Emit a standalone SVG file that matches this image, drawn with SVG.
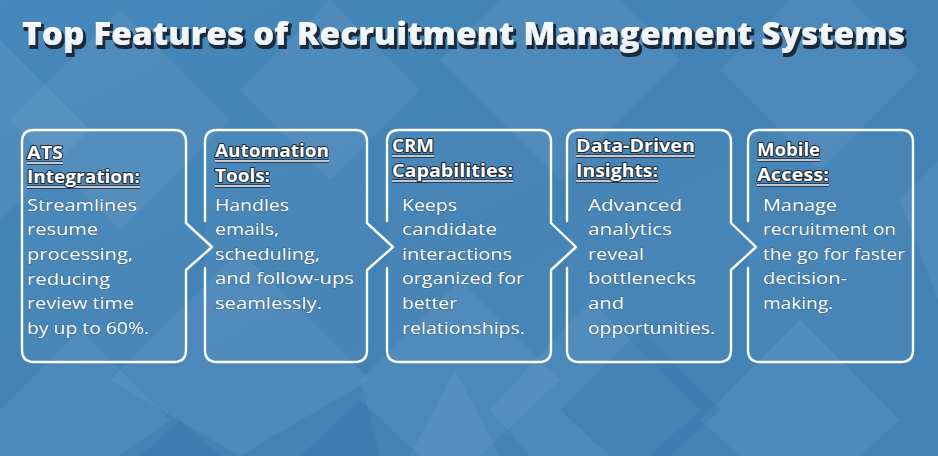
<svg xmlns="http://www.w3.org/2000/svg" width="938" height="456" viewBox="0 0 938 456">
<defs>
<linearGradient id="bg" x1="0" y1="0" x2="1" y2="1">
<stop offset="0" stop-color="#4688bb"/>
<stop offset="0.5" stop-color="#4282b5"/>
<stop offset="1" stop-color="#4383b6"/>
</linearGradient>
<linearGradient id="tg" x1="0" y1="0" x2="0" y2="1">
<stop offset="0" stop-color="#ffffff"/>
<stop offset="1" stop-color="#e4eef6"/>
</linearGradient>
<filter id="ts" x="-5%" y="-30%" width="110%" height="160%">
<feMorphology in="SourceAlpha" operator="dilate" radius="0.8" result="d"/>
<feOffset in="d" dx="2" dy="3" result="o"/>
<feFlood flood-color="#1b2a3b"/>
<feComposite in2="o" operator="in" result="s"/>
<feMerge><feMergeNode in="s"/><feMergeNode in="SourceGraphic"/></feMerge>
</filter>
<style>
.dia{fill:#ffffff;fill-opacity:0.055}
.dk{fill:#2f6fa3;fill-opacity:0.22}
.box{fill:#ffffff;fill-opacity:0.03;stroke:#ffffff;stroke-width:2.4;stroke-linejoin:round;stroke-linecap:round}
.h{font-family:"Open Sans","Liberation Sans",sans-serif;font-weight:700;font-size:17px;fill:#ffffff;stroke:#1d2a38;stroke-width:2;paint-order:stroke;stroke-linejoin:round}
.ul{stroke:#ffffff;stroke-width:1.6}
.uls{stroke:#1d2a38;stroke-width:3.6}
.b{font-family:"Open Sans","Liberation Sans",sans-serif;font-weight:400;font-size:17px;fill:#ffffff;stroke:#27496b;stroke-width:1.1;stroke-opacity:0.55;paint-order:stroke}
.t{font-family:"Open Sans","Liberation Sans",sans-serif;font-weight:800;font-size:32px}
</style>
</defs>
<rect width="938" height="456" fill="url(#bg)"/>
<g id="background">
<path class="dia" d="M0 40 L90 130 L0 220 Z"/>
<path class="dia" d="M120 10 L230 120 L120 230 L10 120 Z"/>
<path class="dia" d="M330 0 L420 90 L330 180 L240 90 Z"/>
<path class="dia" d="M560 -60 L680 60 L560 180 L440 60 Z"/>
<path class="dia" d="M820 -30 L920 70 L820 170 L720 70 Z"/>
<path class="dia" d="M240 250 L370 380 L240 456 L110 380 Z"/>
<path class="dia" d="M80 330 L170 420 L120 456 L0 456 L0 410 Z"/>
<path class="dia" d="M460 280 L560 380 L480 456 L380 456 L360 380 Z"/>
<path class="dia" d="M455 370 L500 456 L410 456 Z"/>
<path class="dia" d="M590 300 L700 410 L650 456 L530 456 L490 410 Z"/>
<path class="dia" d="M800 320 L900 420 L860 456 L740 456 L700 420 Z"/>
<path class="dia" d="M900 200 L938 160 L938 300 Z"/>
<path class="dk" d="M360 400 L420 456 L300 456 Z"/>
<path class="dk" d="M640 330 L720 410 L670 456 L610 456 L560 410 Z"/>
<path class="dk" d="M180 420 L220 456 L140 456 Z"/>
</g>
<g id="title" filter="url(#ts)">
<text class="t" x="22" y="45" textLength="883" lengthAdjust="spacingAndGlyphs" fill="url(#tg)">Top Features of Recruitment Management Systems</text>
</g>
<g id="connectors"></g>
<g id="box1">
<path class="box" d="M34 130 H174 Q186 130 186 142 V223 L212 247 L186 270 V350 Q186 362 174 362 H34 Q22 362 22 350 V142 Q22 130 34 130 Z"/>
<line class="uls" x1="27" y1="163" x2="63" y2="163"/><line class="ul" x1="27" y1="163" x2="63" y2="163"/>
<line class="uls" x1="27" y1="187" x2="140" y2="187"/><line class="ul" x1="27" y1="187" x2="140" y2="187"/>
<text class="h" x="27" y="159" textLength="36" lengthAdjust="spacingAndGlyphs">ATS</text>
<text class="h" x="27" y="183" textLength="113" lengthAdjust="spacingAndGlyphs">Integration:</text>
<text class="b" x="27" y="211" textLength="110" lengthAdjust="spacingAndGlyphs">Streamlines</text>
<text class="b" x="27" y="235" textLength="71" lengthAdjust="spacingAndGlyphs">resume</text>
<text class="b" x="27" y="260" textLength="106" lengthAdjust="spacingAndGlyphs">processing,</text>
<text class="b" x="27" y="285" textLength="83" lengthAdjust="spacingAndGlyphs">reducing</text>
<text class="b" x="27" y="309" textLength="107" lengthAdjust="spacingAndGlyphs">review time</text>
<text class="b" x="27" y="334" textLength="122" lengthAdjust="spacingAndGlyphs">by up to 60%.</text>
</g>
<g id="box2">
<path class="box" d="M205 221 V142 Q205 130 217 130 H355 Q367 130 367 142 V223 L393 247 L367 270 V350 Q367 362 355 362 H217 Q205 362 205 350 V268"/>
<line class="uls" x1="215" y1="161" x2="329" y2="161"/><line class="ul" x1="215" y1="161" x2="329" y2="161"/>
<line class="uls" x1="215" y1="186" x2="270" y2="186"/><line class="ul" x1="215" y1="186" x2="270" y2="186"/>
<text class="h" x="215" y="157" textLength="114" lengthAdjust="spacingAndGlyphs">Automation</text>
<text class="h" x="215" y="182" textLength="55" lengthAdjust="spacingAndGlyphs">Tools:</text>
<text class="b" x="215" y="211" textLength="74" lengthAdjust="spacingAndGlyphs">Handles</text>
<text class="b" x="215" y="235" textLength="64" lengthAdjust="spacingAndGlyphs">emails,</text>
<text class="b" x="215" y="260" textLength="105" lengthAdjust="spacingAndGlyphs">scheduling,</text>
<text class="b" x="215" y="284" textLength="139" lengthAdjust="spacingAndGlyphs">and follow-ups</text>
<text class="b" x="215" y="309" textLength="107" lengthAdjust="spacingAndGlyphs">seamlessly.</text>
</g>
<g id="box3">
<path class="box" d="M387 221 V142 Q387 130 399 130 H539 Q551 130 551 142 V223 L576 247 L551 270 V350 Q551 362 539 362 H399 Q387 362 387 350 V268"/>
<line class="uls" x1="392" y1="156" x2="434" y2="156"/><line class="ul" x1="392" y1="156" x2="434" y2="156"/>
<line class="uls" x1="392" y1="181" x2="513" y2="181"/><line class="ul" x1="392" y1="181" x2="513" y2="181"/>
<text class="h" x="392" y="152" textLength="42" lengthAdjust="spacingAndGlyphs">CRM</text>
<text class="h" x="392" y="177" textLength="121" lengthAdjust="spacingAndGlyphs">Capabilities:</text>
<text class="b" x="402" y="211" textLength="55" lengthAdjust="spacingAndGlyphs">Keeps</text>
<text class="b" x="402" y="235" textLength="95" lengthAdjust="spacingAndGlyphs">candidate</text>
<text class="b" x="402" y="260" textLength="110" lengthAdjust="spacingAndGlyphs">interactions</text>
<text class="b" x="402" y="284" textLength="122" lengthAdjust="spacingAndGlyphs">organized for</text>
<text class="b" x="402" y="309" textLength="55" lengthAdjust="spacingAndGlyphs">better</text>
<text class="b" x="402" y="334" textLength="123" lengthAdjust="spacingAndGlyphs">relationships.</text>
</g>
<g id="box4">
<path class="box" d="M567 221 V142 Q567 130 579 130 H719 Q731 130 731 142 V223 L756 247 L731 270 V350 Q731 362 719 362 H579 Q567 362 567 350 V268"/>
<line class="uls" x1="576" y1="156" x2="695" y2="156"/><line class="ul" x1="576" y1="156" x2="695" y2="156"/>
<line class="uls" x1="576" y1="181" x2="658" y2="181"/><line class="ul" x1="576" y1="181" x2="658" y2="181"/>
<text class="h" x="576" y="152" textLength="119" lengthAdjust="spacingAndGlyphs">Data-Driven</text>
<text class="h" x="576" y="177" textLength="82" lengthAdjust="spacingAndGlyphs">Insights:</text>
<text class="b" x="588" y="211" textLength="94" lengthAdjust="spacingAndGlyphs">Advanced</text>
<text class="b" x="588" y="235" textLength="84" lengthAdjust="spacingAndGlyphs">analytics</text>
<text class="b" x="588" y="260" textLength="56" lengthAdjust="spacingAndGlyphs">reveal</text>
<text class="b" x="588" y="284" textLength="108" lengthAdjust="spacingAndGlyphs">bottlenecks</text>
<text class="b" x="588" y="309" textLength="36" lengthAdjust="spacingAndGlyphs">and</text>
<text class="b" x="588" y="334" textLength="127" lengthAdjust="spacingAndGlyphs">opportunities.</text>
</g>
<g id="box5">
<path class="box" d="M748 221 V142 Q748 130 760 130 H901 Q913 130 913 142 V350 Q913 362 901 362 H760 Q748 362 748 350 V268"/>
<line class="uls" x1="757" y1="160" x2="820" y2="160"/><line class="ul" x1="757" y1="160" x2="820" y2="160"/>
<line class="uls" x1="757" y1="185" x2="829" y2="185"/><line class="ul" x1="757" y1="185" x2="829" y2="185"/>
<text class="h" x="757" y="156" textLength="63" lengthAdjust="spacingAndGlyphs">Mobile</text>
<text class="h" x="757" y="181" textLength="72" lengthAdjust="spacingAndGlyphs">Access:</text>
<text class="b" x="763" y="211" textLength="74" lengthAdjust="spacingAndGlyphs">Manage</text>
<text class="b" x="763" y="235" textLength="133" lengthAdjust="spacingAndGlyphs">recruitment on</text>
<text class="b" x="763" y="260" textLength="142" lengthAdjust="spacingAndGlyphs">the go for faster</text>
<text class="b" x="763" y="284" textLength="84" lengthAdjust="spacingAndGlyphs">decision-</text>
<text class="b" x="763" y="309" textLength="70" lengthAdjust="spacingAndGlyphs">making.</text>
</g>
</svg>
